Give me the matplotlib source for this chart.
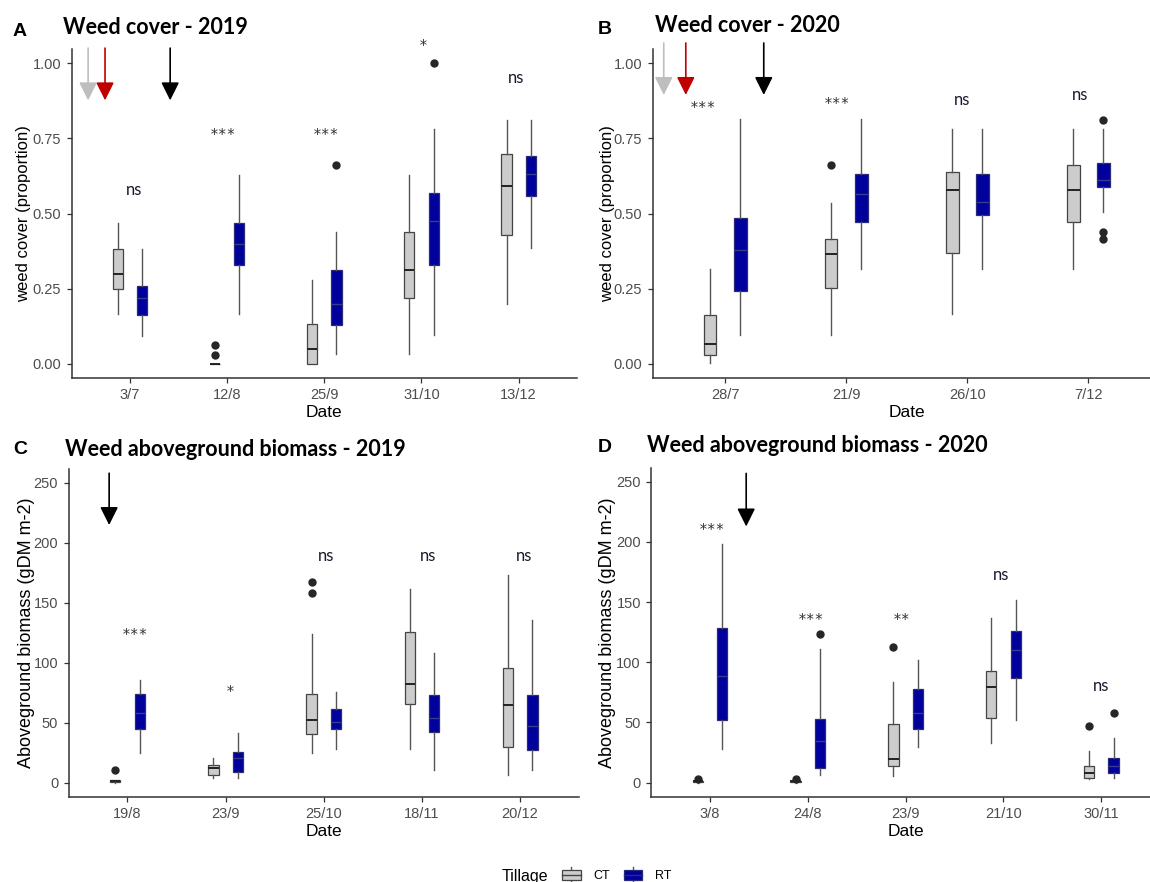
import numpy as np
import matplotlib
matplotlib.use("Agg")
import matplotlib.pyplot as plt
from matplotlib.patches import Rectangle
from matplotlib.lines import Line2D
from matplotlib.legend_handler import HandlerBase

# ---- data ----
# box rows: [whisker low, q1, median, q3, whisker high]
a_dates = ["3/7", "12/8", "25/9", "31/10", "13/12"]
a_ct = [[0.164, 0.249, 0.299, 0.382, 0.47],
        [0.0, 0.0, 0.0, 0.0, 0.0],
        [0.0, 0.0, 0.048, 0.131, 0.28],
        [0.031, 0.219, 0.313, 0.439, 0.629],
        [0.197, 0.43, 0.592, 0.698, 0.812]]
a_ct_out = [[], [0.029, 0.061], [], [], []]
a_rt = [[0.092, 0.161, 0.219, 0.258, 0.382],
        [0.164, 0.33, 0.40, 0.47, 0.629],
        [0.033, 0.128, 0.197, 0.311, 0.439],
        [0.094, 0.33, 0.474, 0.568, 0.781],
        [0.385, 0.559, 0.631, 0.692, 0.812]]
a_rt_out = [[], [], [0.66], [1.0], []]
a_sig = ["ns", "***", "***", "*", "ns"]
a_sig_x = [1.04, 1.955, 3.02, 4.02, 4.97]
a_sig_y = [0.577, 0.767, 0.767, 1.066, 0.953]
a_arrow_x = [0.571, 0.745, 1.415]
a_arrow_y = [1.051, 0.877]

b_dates = ["28/7", "21/9", "26/10", "7/12"]
b_ct = [[0.003, 0.030, 0.064, 0.162, 0.315],
        [0.096, 0.251, 0.365, 0.414, 0.534],
        [0.166, 0.37, 0.578, 0.638, 0.781],
        [0.315, 0.472, 0.578, 0.661, 0.781]]
b_ct_out = [[], [0.661], [], []]
b_rt = [[0.096, 0.243, 0.379, 0.486, 0.814],
        [0.315, 0.472, 0.564, 0.63, 0.814],
        [0.315, 0.494, 0.538, 0.63, 0.781],
        [0.506, 0.589, 0.613, 0.669, 0.781]]
b_rt_out = [[], [], [], [0.812, 0.44, 0.414]]
b_sig = ["***", "***", "ns", "ns"]
b_sig_x = [0.815, 1.92, 2.96, 3.93]
b_sig_y = [0.859, 0.873, 0.878, 0.895]
b_arrow_x = [0.493, 0.675, 1.319]
b_arrow_y = [1.068, 0.895]

c_dates = ["19/8", "23/9", "25/10", "18/11", "20/12"]
c_ct = [[0.0, 0.5, 1.0, 1.8, 2.5],
        [4.2, 6.1, 11.9, 14.7, 20.8],
        [24.9, 40.7, 51.8, 74.3, 123.9],
        [28.3, 65.7, 82.6, 125.6, 161.3],
        [6.1, 29.7, 65.1, 95.6, 173.2]]
c_ct_out = [[10.5], [], [158.5, 167.0], [], []]
c_rt = [[24.9, 44.9, 58.2, 74.3, 85.9],
        [4.2, 9.1, 20.8, 25.5, 41.6],
        [27.7, 44.9, 50.7, 61.0, 75.4],
        [10.3, 42.4, 54.0, 73.4, 108.1],
        [10.3, 26.9, 47.1, 73.4, 135.2]]
c_rt_out = [[], [], [], [], []]
c_sig = ["***", "*", "ns", "ns", "ns"]
c_sig_x = [1.074, 2.05, 3.02, 4.06, 5.04]
c_sig_y = [124.7, 77.6, 189, 189, 189]
c_arrow_x = [0.813]
c_arrow_y = [258, 214.8]

d_dates = ["3/8", "24/8", "23/9", "21/10", "30/11"]
d_ct = [[0.0, 0.5, 1.0, 1.5, 2.0],
        [0.0, 0.5, 1.0, 1.5, 2.0],
        [5.5, 13.9, 19.4, 48.5, 84.0],
        [33.3, 54.0, 79.8, 92.8, 137.2],
        [2.8, 3.6, 7.8, 13.9, 26.3]]
d_ct_out = [[3.2], [3.2], [112.8], [], [47.1]]
d_rt = [[27.7, 52.1, 88.7, 128.3, 198.2],
        [6.1, 12.5, 34.6, 53.2, 110.9],
        [29.9, 44.3, 58.2, 77.6, 102.0],
        [51.8, 87.3, 110.0, 125.6, 151.6],
        [4.2, 7.8, 13.9, 20.8, 37.4]]
d_rt_out = [[], [123.9], [], [], [58.2]]
d_sig = ["***", "***", "**", "ns", "ns"]
d_sig_x = [1.02, 2.03, 2.96, 3.98, 5.0]
d_sig_y = [212, 136.6, 136.6, 172.4, 80.4]
d_arrow_x = [1.37]
d_arrow_y = [257, 212.9]

arrow_cols_3 = ["#bebebe", "#c00000", "black"]

CT_FILL = "#cccccc"
RT_FILL = "#00009c"
CT_EDGE = "#444444"
RT_EDGE = "#2a2a7a"
W, H = 1150, 882

fig = plt.figure(figsize=(W / 100, H / 100), dpi=100)


def px_axes(left, top, right, bottom):
    return fig.add_axes([left / W, 1 - bottom / H, (right - left) / W, (bottom - top) / H])


def stats(rows, outs):
    return [dict(whislo=r[0], q1=r[1], med=r[2], q3=r[3], whishi=r[4], fliers=o)
            for r, o in zip(rows, outs)]


def draw_panel(ax, dates, ct, ct_out, rt, rt_out, sig, sig_x, sig_y,
               arrow_x, arrow_cols, arrow_y, ylim, yticks, ylabels, ylabel,
               ylab_size, ylab_x):
    pos = np.arange(1, len(dates) + 1)
    common = dict(widths=0.105, patch_artist=True, showcaps=False, manage_ticks=False,
                  whiskerprops=dict(color="#555555", lw=1.0),
                  flierprops=dict(marker="o", markerfacecolor="#262626",
                                  markeredgecolor="#262626", markersize=5))
    ax.bxp(stats(ct, ct_out), positions=pos - 0.125,
           boxprops=dict(facecolor=CT_FILL, edgecolor=CT_EDGE, lw=0.9),
           medianprops=dict(color="#222222", lw=1.4), **common)
    ax.bxp(stats(rt, rt_out), positions=pos + 0.125,
           boxprops=dict(facecolor=RT_FILL, edgecolor=RT_EDGE, lw=0.9),
           medianprops=dict(color="#3b3b8c", lw=1.0), **common)

    ax.set_xlim(0.4, len(dates) + 0.6)
    ax.set_ylim(*ylim)
    ax.set_xticks(pos)
    ax.set_xticklabels(dates, family="Liberation Sans")
    ax.set_yticks(yticks)
    ax.set_yticklabels(ylabels, family="Liberation Sans")
    for s in ["top", "right"]:
        ax.spines[s].set_visible(False)
    for s in ["left", "bottom"]:
        ax.spines[s].set_color("#333333")
        ax.spines[s].set_linewidth(1.1)
    ax.tick_params(colors="#333333", labelcolor="#4d4d4d", length=3.5, width=0.9,
                   labelsize=10.5, pad=4)
    ax.set_xlabel("Date", fontsize=12.5, family="Liberation Sans")
    ax.set_ylabel(ylabel, fontsize=ylab_size, family="Liberation Sans")
    ax.xaxis.set_label_coords(0.5, -0.083)
    ax.yaxis.set_label_coords(ylab_x, 0.5)

    for txt, x, y in zip(sig, sig_x, sig_y):
        if txt == "ns":
            ax.text(x, y, txt, ha="center", va="center", fontsize=12,
                    family="Lato", color="#1a1a2e")
        else:
            ax.text(x, y - (ylim[1] - ylim[0]) * 0.008, txt, ha="center", va="center",
                    fontsize=10.5, family="DejaVu Sans Mono", color="#333333")

    for x, c in zip(arrow_x, arrow_cols):
        ax.annotate("", xy=(x, arrow_y[1]), xytext=(x, arrow_y[0]),
                    arrowprops=dict(arrowstyle="-|>,head_length=1.1,head_width=0.55",
                                    mutation_scale=10, color=c, lw=1.2,
                                    shrinkA=0, shrinkB=0),
                    annotation_clip=False)


class BoxKey(HandlerBase):
    # legend key that looks like a small boxplot
    def create_artists(self, legend, orig_handle, xdescent, ydescent, width, height,
                       fontsize, trans):
        fc, ec = orig_handle
        x0, y0 = -xdescent, -ydescent
        whisk = Line2D([x0 + width / 2] * 2, [y0 - height * 0.35, y0 + height * 1.35],
                       color="#555555", lw=1.0, transform=trans)
        box = Rectangle((x0, y0), width, height, facecolor=fc, edgecolor=ec, lw=0.9,
                        transform=trans)
        med = Line2D([x0, x0 + width], [y0 + height / 2] * 2, color=ec, lw=1.0,
                     transform=trans)
        return [whisk, box, med]


ax_a = px_axes(71.5, 49, 577, 378)
ax_b = px_axes(652.5, 49, 1161, 378)
ax_c = px_axes(68.6, 469, 579, 797)
ax_d = px_axes(651.3, 468, 1160, 797)

cover_ticks = [0, 0.25, 0.5, 0.75, 1.0]
cover_labels = ["0.00", "0.25", "0.50", "0.75", "1.00"]
bio_ticks = [0, 50, 100, 150, 200, 250]
bio_labels = ["0", "50", "100", "150", "200", "250"]

draw_panel(ax_a, a_dates, a_ct, a_ct_out, a_rt, a_rt_out, a_sig, a_sig_x, a_sig_y,
           a_arrow_x, arrow_cols_3, a_arrow_y, (-0.048, 1.048), cover_ticks, cover_labels,
           "weed cover (proportion)", 12, -0.080)
draw_panel(ax_b, b_dates, b_ct, b_ct_out, b_rt, b_rt_out, b_sig, b_sig_x, b_sig_y,
           b_arrow_x, arrow_cols_3, b_arrow_y, (-0.048, 1.048), cover_ticks, cover_labels,
           "weed cover (proportion)", 12, -0.074)
draw_panel(ax_c, c_dates, c_ct, c_ct_out, c_rt, c_rt_out, c_sig, c_sig_x, c_sig_y,
           c_arrow_x, ["black"], c_arrow_y, (-12, 261.5), bio_ticks, bio_labels,
           "Aboveground biomass (gDM m-2)", 13, -0.066)
draw_panel(ax_d, d_dates, d_ct, d_ct_out, d_rt, d_rt_out, d_sig, d_sig_x, d_sig_y,
           d_arrow_x, ["black"], d_arrow_y, (-12, 261.5), bio_ticks, bio_labels,
           "Aboveground biomass (gDM m-2)", 13, -0.070)

# panel letters and titles
letters = [("A", 20, 31), ("B", 605, 30), ("C", 20, 449), ("D", 605, 448)]
for s, x, y in letters:
    fig.text(x / W, 1 - y / H, s, ha="center", va="center", fontsize=14,
             fontweight="bold", family="Liberation Sans")
titles = [("Weed cover - 2019", 63, 27), ("Weed cover - 2020", 655, 25),
          ("Weed aboveground biomass - 2019", 65, 449),
          ("Weed aboveground biomass - 2020", 647, 445)]
for s, x, y in titles:
    fig.text(x / W, 1 - y / H, s, ha="left", va="center", fontsize=15.5,
             fontweight="bold", family="Lato")

# legend
fig.text(502 / W, 1 - 876 / H, "Tillage", ha="left", va="center", fontsize=11.5,
         family="Liberation Sans")
leg = fig.legend([(CT_FILL, CT_EDGE), (RT_FILL, RT_EDGE)], ["CT", "RT"], ncol=2,
                 loc="center left", bbox_to_anchor=(562 / W, 1 - 876 / H), frameon=False,
                 prop=dict(family="Liberation Sans", size=9),
                 handler_map={tuple: BoxKey()},
                 handlelength=1.5, handleheight=0.8, handletextpad=1.0,
                 columnspacing=1.1, borderaxespad=0, borderpad=0)

fig.savefig("out.png", dpi=100)
